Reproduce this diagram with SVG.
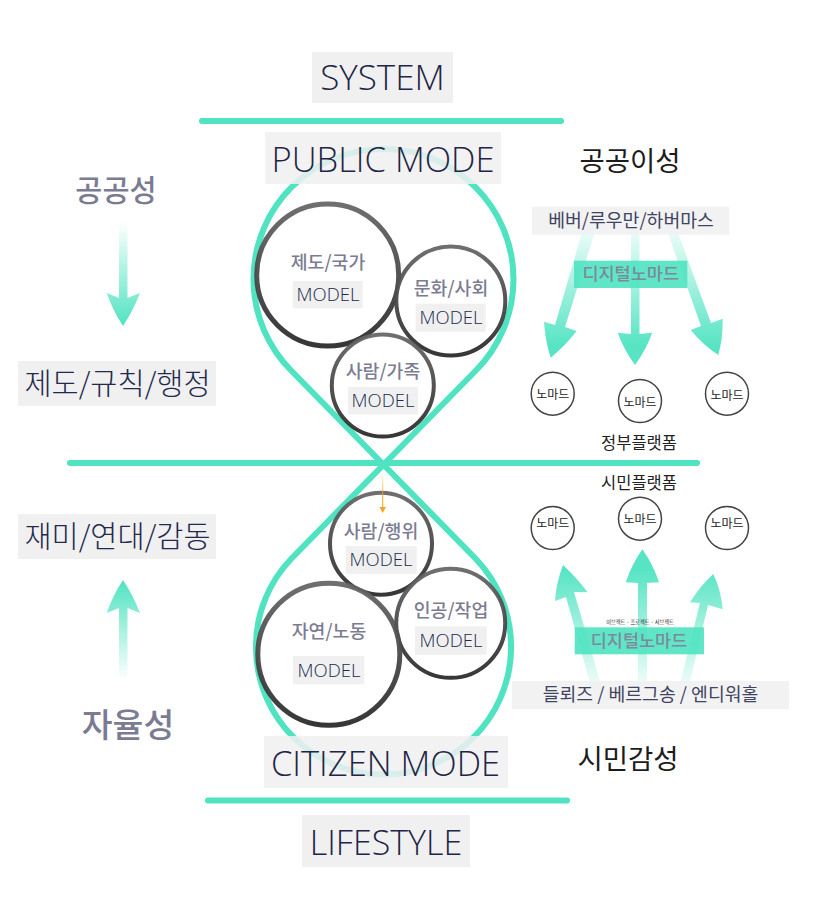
<svg xmlns="http://www.w3.org/2000/svg" width="815" height="904" viewBox="0 0 815 904">
<style>
text{font-family:"Open Sans","Noto Sans CJK KR",sans-serif;text-anchor:middle}
.box{fill:#f0f0f1}
.tbox{fill:#f0f0f1;fill-opacity:.86}
.hd{font-size:34.500px;font-weight:300;fill:#1f2544}
.side{font-size:29.500px;font-weight:300;fill:#23294a;font-family:"Noto Sans CJK KR",sans-serif}
.ml{font-size:18.500px;font-weight:300;fill:#23294a}
.nm{font-size:18.300px;font-weight:500;fill:#7b7c92;font-family:"Noto Sans CJK KR",sans-serif}
.bar{stroke:#4fe3c1;stroke-width:6;stroke-linecap:round;fill:none}
.ring{fill:none;stroke:url(#ring);stroke-opacity:.94}
.fillw{fill:#fff}
.nom{fill:#fff;stroke:#444;stroke-width:1.500}
.nt{font-size:12px;fill:#222;font-family:"Noto Sans CJK KR",sans-serif}
.sm{font-size:16.500px;fill:#222;font-family:"Noto Sans CJK KR",sans-serif}
.big{font-size:27.500px;fill:#1c1c1c;font-family:"Noto Sans CJK KR",sans-serif}
.ph{font-size:18.300px;font-weight:400;fill:#3f4460;font-family:"Noto Sans CJK KR",sans-serif}
.dg{fill:#4fe3c1;fill-opacity:.9}
.dt{font-size:17.500px;font-weight:500;fill:#7c8a99;font-family:"Noto Sans CJK KR",sans-serif}
.lab{fill:#7b7c92;font-weight:500;font-family:"Noto Sans CJK KR",sans-serif}
</style>
<defs>
<linearGradient id="ring" x1="0" y1="0" x2="0" y2="1"><stop offset="0" stop-color="#666"/><stop offset="1" stop-color="#2a2a2a"/></linearGradient>
<linearGradient id="aL1" gradientUnits="userSpaceOnUse" x1="123" y1="222" x2="123" y2="326"><stop offset="0" stop-color="#4fe3c1" stop-opacity="0"/><stop offset="1" stop-color="#4fe3c1"/></linearGradient>
<linearGradient id="aL2" gradientUnits="userSpaceOnUse" x1="123" y1="680" x2="123" y2="580"><stop offset="0" stop-color="#4fe3c1" stop-opacity="0"/><stop offset="1" stop-color="#4fe3c1"/></linearGradient>
<linearGradient id="aT" gradientUnits="userSpaceOnUse" x1="0" y1="222" x2="0" y2="345"><stop offset="0" stop-color="#4fe3c1" stop-opacity=".05"/><stop offset="1" stop-color="#4fe3c1" stop-opacity=".95"/></linearGradient>
<linearGradient id="aB" gradientUnits="userSpaceOnUse" x1="0" y1="690" x2="0" y2="570"><stop offset="0" stop-color="#4fe3c1" stop-opacity=".05"/><stop offset="1" stop-color="#4fe3c1" stop-opacity=".95"/></linearGradient>
<linearGradient id="aO" gradientUnits="userSpaceOnUse" x1="0" y1="472" x2="0" y2="513"><stop offset="0" stop-color="#f5a623" stop-opacity="0"/><stop offset=".6" stop-color="#f5a623"/><stop offset="1" stop-color="#f5a623"/></linearGradient>
</defs>

<g id="hourglass"><path d="M291.6,371 A130,130 0 1 1 475.4,371 L291.5,558.5 A127.6,127.6 0 1 0 475.5,558.5 Z" fill="none" stroke="#4fe3c1" stroke-width="6" stroke-linejoin="round"/></g>

<g id="connectors">
<line class="bar" x1="202" y1="121" x2="561" y2="121"/>
<line class="bar" x1="70" y1="463" x2="697" y2="463"/>
<line class="bar" x1="208" y1="800.5" x2="567" y2="800.5"/>
<path fill="url(#aL1)" d="M119,222H127.5V298L140,293Q133,311 123,326Q113,311 106.7,293L119,298Z"/>
<path fill="url(#aL2)" d="M119,680H127.5V608L140,613Q133,595 123,580Q113,595 106.7,613L119,608Z"/>
<path fill="url(#aT)" d="M585,222L597,225L565,327L576.7,331Q565,346 550.7,357.7Q545,340 544,321.7L555,325Z"/>
<path fill="url(#aT)" d="M631,222H639.5V334L652.3,332.7Q646,350 635,365Q624,350 617.7,332.7L631,334Z"/>
<path fill="url(#aT)" d="M664,222L674,222L711,323L722.7,318.7Q723,338 718.3,355Q703,345 690.7,330L701,326Z"/>
<path fill="url(#aB)" d="M592,690L602,688L574,592L587.7,592.3Q576,577 563,565Q556,583 555,601L566,597Z"/>
<path fill="url(#aB)" d="M638,690H647V583L659,582.3Q653,564 642.3,549.3Q632,564 625.7,582.3L638,583Z"/>
<path fill="url(#aB)" d="M679,688L688,690L708,605L722.7,609.3Q721,590 713.3,574Q700,586 690,602.3L700,603Z"/>
</g>

<g id="system"><rect class="box" x="312" y="52" width="141" height="51"/><text class="hd" x="382.500" y="90" style="font-size:35px">SYSTEM</text></g>
<g id="public-mode"><rect class="tbox" x="265" y="132" width="236" height="52"/><text class="hd" x="383" y="172">PUBLIC MODE</text></g>
<g id="citizen-mode"><rect class="tbox" x="264" y="736" width="244" height="52"/><text class="hd" x="385.500" y="776">CITIZEN MODE</text></g>
<g id="lifestyle"><rect class="box" x="302" y="815" width="168" height="52"/><text class="hd" x="386" y="855" style="font-size:34px">LIFESTYLE</text></g>

<g id="model-state"><circle class="fillw" cx="327.700" cy="275" r="71"/><circle class="ring" cx="327.700" cy="275" r="71" stroke-width="5"/><text class="nm" x="328" y="269">제도/국가</text><rect class="box" x="292.700" y="281" width="70" height="27.300"/><text class="ml" x="328" y="301">MODEL</text></g>
<g id="model-culture"><circle class="fillw" cx="450.800" cy="301" r="54.500"/><circle class="ring" cx="450.800" cy="301" r="54.500" stroke-width="4"/><text class="nm" x="451" y="295">문화/사회</text><rect class="box" x="415.700" y="303.700" width="70" height="28"/><text class="ml" x="451" y="324">MODEL</text></g>
<g id="model-family"><circle class="fillw" cx="382.800" cy="385.500" r="51"/><circle class="ring" cx="382.800" cy="385.500" r="51" stroke-width="4"/><text class="nm" x="383" y="378">사람/가족</text><rect class="box" x="348" y="387" width="70" height="27.300"/><text class="ml" x="383" y="407">MODEL</text></g>
<g id="model-act"><circle class="fillw" cx="381" cy="543.700" r="51"/><circle class="ring" cx="381" cy="543.700" r="51" stroke-width="4"/><text class="nm" x="381" y="538">사람/행위</text><rect class="box" x="345.700" y="546" width="71" height="28"/><text class="ml" x="381" y="566">MODEL</text></g>
<g id="model-craft"><circle class="fillw" cx="450.700" cy="623.300" r="54.500"/><circle class="ring" cx="450.700" cy="623.300" r="54.500" stroke-width="4"/><text class="nm" x="451" y="617">인공/작업</text><rect class="box" x="415" y="626.300" width="71.700" height="28.400"/><text class="ml" x="451" y="647">MODEL</text></g>
<g id="model-nature"><circle class="fillw" cx="328.800" cy="654.300" r="71"/><circle class="ring" cx="328.800" cy="654.300" r="71" stroke-width="5"/><text class="nm" x="329" y="638">자연/노동</text><rect class="box" x="293" y="656" width="71.300" height="28.300"/><text class="ml" x="329" y="677">MODEL</text></g>

<g id="orange-arrow"><path fill="url(#aO)" d="M382.200,472H383.200V507H386L382.700,513L379.400,507H382.200Z"/></g>

<g id="left-public"><text class="lab" x="116" y="200.500" style="font-size:29.500px">공공성</text></g>
<g id="left-rule"><rect class="box" x="18" y="361" width="198" height="45"/><text class="side" x="117.500" y="394">제도/규칙/행정</text></g>
<g id="left-fun"><rect class="box" x="18" y="514" width="198" height="45"/><text class="side" x="117.500" y="547">재미/연대/감동</text></g>
<g id="left-auto"><text class="lab" x="128" y="737" style="font-size:33.500px">자율성</text></g>

<g id="right-public"><text class="big" x="630" y="171">공공이성</text></g>
<g id="right-citizen"><text class="big" x="628" y="769">시민감성</text></g>
<g id="weber"><rect class="tbox" x="532" y="206.700" width="197" height="28"/><text class="ph" x="631" y="227">베버/루우만/하버마스</text></g>
<g id="digital-top"><rect class="dg" x="574" y="260.700" width="113.300" height="27.300"/><text class="dt" x="630.700" y="280">디지털노마드</text></g>
<g id="nomad-t1"><circle class="nom" cx="552.700" cy="393.700" r="21.500"/><text class="nt" x="552.700" y="399">노마드</text></g>
<g id="nomad-t2"><circle class="nom" cx="640" cy="401" r="21.500"/><text class="nt" x="640" y="407">노마드</text></g>
<g id="nomad-t3"><circle class="nom" cx="727" cy="393.700" r="21.500"/><text class="nt" x="727" y="400">노마드</text></g>
<g id="gov-platform"><text class="sm" x="639" y="449">정부플랫폼</text></g>
<g id="citizen-platform"><text class="sm" x="639" y="489">시민플랫폼</text></g>
<g id="nomad-b1"><circle class="nom" cx="552.700" cy="528" r="21.500"/><text class="nt" x="552.700" y="528">노마드</text></g>
<g id="nomad-b2"><circle class="nom" cx="640" cy="518.700" r="21.500"/><text class="nt" x="640" y="524">노마드</text></g>
<g id="nomad-b3"><circle class="nom" cx="727" cy="528" r="21.500"/><text class="nt" x="727" y="528">노마드</text></g>
<g id="tiny"><text x="640" y="623.500" style="font-size:5.200px;fill:#222;font-family:'Noto Sans CJK KR',sans-serif">이브젝트 · 프로젝트 · 서브젝트</text></g>
<g id="digital-bottom"><rect class="dg" x="574.700" y="627.300" width="129.300" height="27"/><text class="dt" x="639" y="647">디지털노마드</text></g>
<g id="deleuze"><rect class="tbox" x="512" y="681" width="277" height="28"/><text class="ph" x="650.500" y="701">들뢰즈 / 베르그송 / 엔디워홀</text></g>
</svg>
